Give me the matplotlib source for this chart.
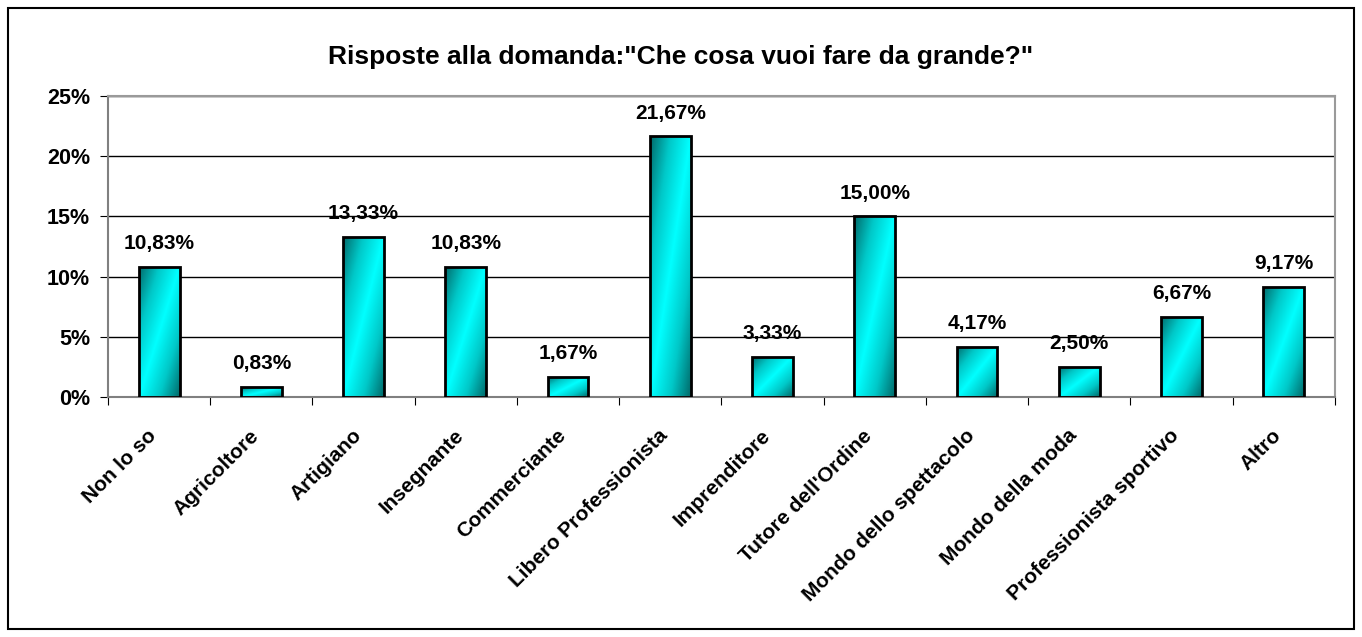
import matplotlib
matplotlib.use("Agg")
import matplotlib.pyplot as plt
import numpy as np
from matplotlib.colors import LinearSegmentedColormap
from matplotlib.patches import Rectangle
from matplotlib.transforms import ScaledTranslation

plt.rcParams['font.family'] = ['Liberation Sans', 'DejaVu Sans']
plt.rcParams['font.weight'] = 'bold'

categories = ["Non lo so", "Agricoltore", "Artigiano", "Insegnante", "Commerciante",
              "Libero Professionista", "Imprenditore", "Tutore dell'Ordine",
              "Mondo dello spettacolo", "Mondo della moda", "Professionista sportivo", "Altro"]
values = [10.83, 0.83, 13.33, 10.83, 1.67, 21.67, 3.33, 15.00, 4.17, 2.50, 6.67, 9.17]
labels = ["10,83%", "0,83%", "13,33%", "10,83%", "1,67%", "21,67%", "3,33%", "15,00%",
          "4,17%", "2,50%", "6,67%", "9,17%"]
yticks = [0, 5, 10, 15, 20, 25]

fig = plt.figure(figsize=(13.62, 6.37), dpi=100)
ax = fig.add_axes([0.0793, 0.377, 0.9007, 0.472])

cmap = LinearSegmentedColormap.from_list("cy", ["#006a6a", "#00c8c8", "#00ffff"])
gx, gy = np.meshgrid(np.linspace(0, 1, 60), np.linspace(0, 1, 200))
grad = 1 - np.abs(gx - gy[::-1])  # bright along bottom-left to top-right diagonal

x = np.arange(len(categories))
bars = ax.bar(x, values, width=0.4, facecolor='none', edgecolor='black', linewidth=2, zorder=3)
for b in bars:
    im = ax.imshow(grad, cmap=cmap, aspect='auto', zorder=2, vmin=0, vmax=1,
                   extent=[b.get_x(), b.get_x() + b.get_width(), 0, b.get_height()])
    im.set_clip_path(b)

for xi, v, lab in zip(x, values, labels):
    ax.text(xi, v + 1.45, lab, ha='center', va='baseline', fontsize=15, fontweight='bold')

ax.set_xlim(-0.5, len(categories) - 0.5)
ax.set_ylim(0, 25)
ax.set_yticks(yticks)
ax.set_yticklabels([f"{t}%" for t in yticks], fontsize=15.5, fontweight='bold')
ax.set_xticks(np.arange(-0.5, len(categories), 1))
ax.set_xticklabels([])
ax.set_xticks(x, minor=True)
ax.set_xticklabels(categories, minor=True, rotation=45, ha='right', rotation_mode='anchor',
                   fontsize=15, fontweight='bold')
ax.tick_params(axis='x', which='minor', length=0, pad=21)
ax.tick_params(axis='x', which='major', length=6, color='black')
ax.tick_params(axis='y', length=6, pad=7)
shift = ScaledTranslation(-0.12, 0, fig.dpi_scale_trans)
for t in ax.get_xticklabels(minor=True):
    t.set_transform(t.get_transform() + shift)
ax.yaxis.grid(True, color='black', linewidth=1)
ax.set_axisbelow(True)
for s in ['top', 'right']:
    ax.spines[s].set_color('#9a9a9a')
    ax.spines[s].set_linewidth(1.5)
ax.spines['left'].set_color('#808080')
ax.spines['left'].set_linewidth(1.5)
ax.spines['bottom'].set_color('#808080')
ax.spines['bottom'].set_linewidth(1.5)

fig.text(0.5, 0.911, "Risposte alla domanda:\"Che cosa vuoi fare da grande?\"",
         ha='center', va='center', fontsize=19, fontweight='bold')

fig.patches.append(Rectangle((0.006, 0.012), 0.988, 0.976, transform=fig.transFigure,
                             fill=False, edgecolor='black', linewidth=1.5))

fig.savefig("out.png", dpi=100)
